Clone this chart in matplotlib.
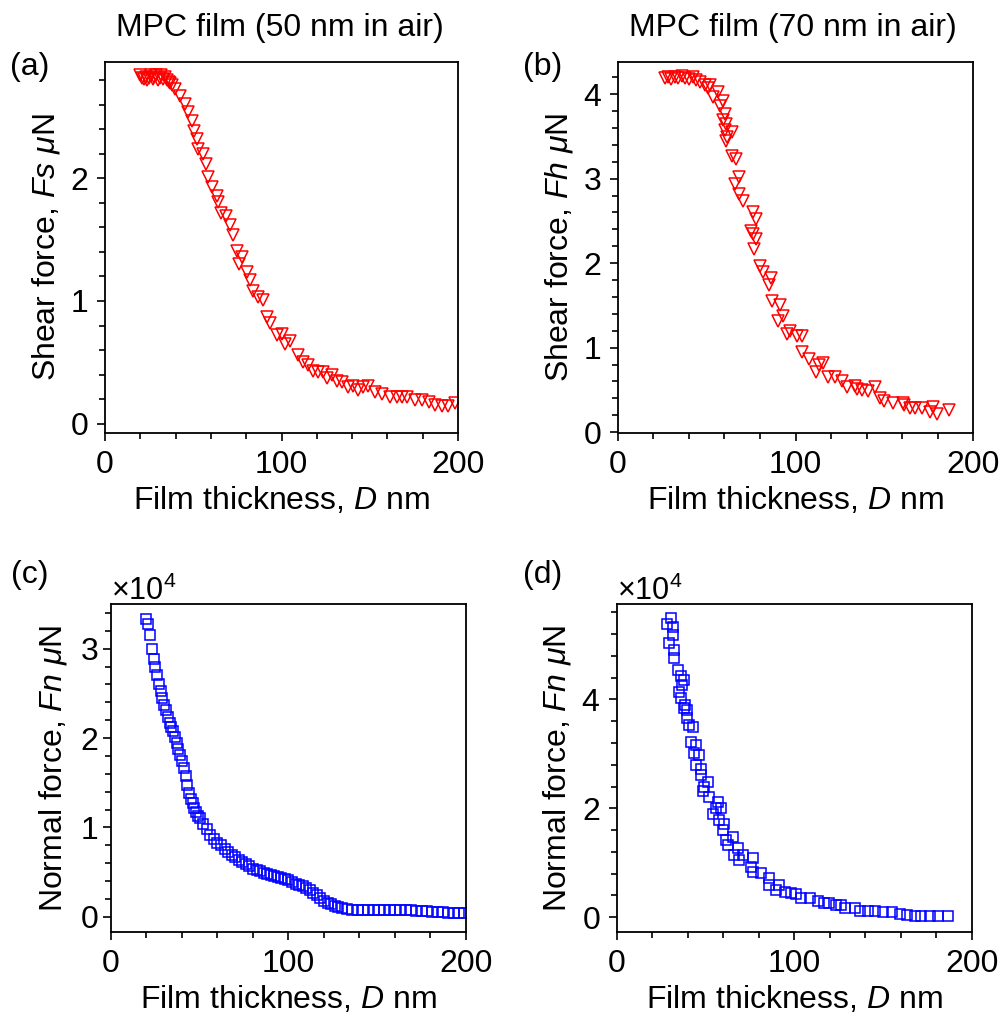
import numpy as np
import matplotlib
matplotlib.use('Agg')
import matplotlib.pyplot as plt
from matplotlib.ticker import MultipleLocator

plt.rcParams['font.family'] = ['Liberation Sans', 'DejaVu Sans']
plt.rcParams['mathtext.fontset'] = 'custom'
plt.rcParams['mathtext.rm'] = 'Liberation Sans'
plt.rcParams['mathtext.it'] = 'Liberation Sans:italic'
plt.rcParams['font.size'] = 23

# (a) shear force, 50 nm film
d_a = [20, 21, 22, 23, 24, 25, 26, 27, 28, 29, 30, 31, 32, 33, 34, 35, 36, 37, 38,
       39.7, 42.5, 45.3, 47.2, 49.1, 50.6, 51.9, 52.9, 55.7, 57.0, 58.5, 60.4, 63.3,
       64.2, 65.5, 68.6, 70.8, 72.7, 74.6, 77.4, 76.1, 80.3, 82.2, 84.1, 86.9, 89.7,
       91.6, 93.5, 97.3, 100.1, 102.0, 104.8, 109.5, 112.4, 115.2, 118.1, 120.9,
       123.7, 125.6, 128.4, 131.2, 134.1, 137.8, 140.7, 143.5, 146.4, 149.2, 153.0,
       156.7, 161.5, 165.2, 168.1, 171.0, 175.7, 179.5, 183.3, 187.0, 190.8, 194.6,
       198.3]
fs_a = [2.84, 2.82, 2.81, 2.83, 2.80, 2.82, 2.84, 2.81, 2.83, 2.84, 2.80, 2.82, 2.84,
        2.81, 2.83, 2.80, 2.79, 2.78, 2.76,
        2.73, 2.67, 2.61, 2.54, 2.47, 2.39, 2.32, 2.24, 2.20, 2.12, 2.01, 1.93, 1.86,
        1.81, 1.72, 1.69, 1.62, 1.54, 1.41, 1.36, 1.30, 1.24, 1.17, 1.08, 1.03, 1.01,
        0.87, 0.82, 0.72, 0.73, 0.65, 0.67, 0.56, 0.50, 0.48, 0.43, 0.42,
        0.42, 0.37, 0.40, 0.35, 0.34, 0.30, 0.31, 0.27, 0.30, 0.31, 0.26,
        0.24, 0.22, 0.22, 0.22, 0.22, 0.19, 0.19, 0.18, 0.15, 0.14, 0.14,
        0.17]

# (b) shear force, 70 nm film
d_b = [26.3, 28, 30, 32, 34, 36, 38, 40, 42, 44.2, 46.1, 48.9, 50.8, 51.7, 53.6, 56.4,
       57.4, 59.3, 60.2, 59.3, 61.1, 60.2, 64.0, 61.5, 60.8, 64.0, 66.4, 68.3, 65.9,
       68.3, 70.6, 75.8, 77.5, 74.9, 75.8, 77.5, 76.6, 80.0, 81.8, 86.0, 85.2, 86.5,
       91.3, 93.1, 90.3, 95.0, 96.9, 100.7, 103.5, 103.5, 107.8, 113.5, 115.4, 111.6,
       118.5, 122.3, 126.1, 128.9, 133.6, 134.5, 137.4, 141.1, 144.9, 147.7, 149.6,
       155.2, 160.5, 161.2, 164.6, 167.5, 171.2, 175.9, 177.4, 179.7, 186.3]
fh_b = [4.19, 4.20, 4.18, 4.20, 4.19, 4.21, 4.19, 4.18, 4.20, 4.17, 4.14, 4.11, 4.07,
        4.11, 3.96, 4.03, 3.86, 3.92, 3.76, 3.69, 3.65, 3.57, 3.55, 3.49, 3.45, 3.27,
        3.23, 3.02, 2.94, 2.82, 2.74, 2.60, 2.52, 2.38, 2.35, 2.29, 2.17, 1.97, 1.89,
        1.83, 1.74, 1.55, 1.50, 1.38, 1.31, 1.16, 1.20, 1.14, 1.14, 0.95, 0.87, 0.79,
        0.82, 0.71, 0.65, 0.65, 0.61, 0.53, 0.55, 0.51, 0.50, 0.49, 0.53, 0.41, 0.37,
        0.35, 0.35, 0.32, 0.28, 0.28, 0.28, 0.24, 0.30, 0.22, 0.26]

# (c) normal force, 50 nm film (x 1e4 uN)
d_c = [20, 21, 22, 23, 24, 25, 26, 27, 28, 29, 30, 31, 32, 33, 34, 35, 36, 37, 38, 39,
       40, 41, 42, 43, 44, 45, 46, 47, 48, 49, 50, 52, 54, 56, 58, 60, 62, 64, 66, 68,
       70, 72, 74, 76, 78, 80, 82, 84, 86, 88, 90, 92, 94, 96, 98, 100, 102, 104, 106,
       108, 110, 112, 114, 116, 118, 120, 122, 124, 126, 128, 130, 133, 136, 139, 142,
       145, 148, 151, 154, 157, 160, 163, 166, 169, 172, 175, 178, 181, 184, 187, 190,
       193, 196, 199]
fn_c = np.array([3.33, 3.28, 3.15, 3.00, 2.88, 2.79, 2.70, 2.61, 2.53, 2.45, 2.37,
                 2.31, 2.24, 2.17, 2.12, 2.08, 2.01, 1.95, 1.88, 1.81, 1.74, 1.66, 1.57,
                 1.48, 1.39, 1.32, 1.27, 1.22, 1.17, 1.13, 1.10, 1.04, 0.98, 0.92, 0.87,
                 0.83, 0.80, 0.76, 0.72, 0.69, 0.67, 0.64, 0.61, 0.59, 0.57, 0.54, 0.52,
                 0.51, 0.49, 0.48, 0.47, 0.46, 0.45, 0.43, 0.42, 0.41, 0.39, 0.37, 0.36,
                 0.34, 0.32, 0.30, 0.27, 0.24, 0.21, 0.18, 0.16, 0.14, 0.12, 0.11, 0.10,
                 0.09, 0.08, 0.08, 0.08, 0.08, 0.08, 0.08, 0.08, 0.08, 0.08, 0.08, 0.08,
                 0.075, 0.07, 0.065, 0.06, 0.055, 0.05, 0.05, 0.045, 0.045, 0.04,
                 0.04]) * 1e4

# (d) normal force, 70 nm film (x 1e4 uN)
d_d = [28.4, 30.3, 31.3, 31.3, 29.4, 32.2, 32.2, 34.1, 36.0, 37.9, 36.9, 35.0, 36.0,
       38.4, 39.7, 37.9, 39.7, 40.3, 42.6, 41.6, 44.5, 43.5, 46.3, 44.5, 47.3, 47.3,
       51.0, 49.2, 48.2, 51.9, 56.7, 55.7, 58.6, 54.2, 57.6, 60.4, 59.5, 65.2, 61.4,
       62.3, 68.0, 66.1, 70.8, 69.0, 76.4, 75.5, 76.4, 81.2, 85.9, 85.9, 91.5, 89.6,
       94.4, 98.1, 100.9, 103.8, 108.5, 113.2, 116.9, 119.7, 123.5, 126.3, 128.2,
       133.9, 136.7, 141.4, 145.2, 149.9, 155.2, 159.3, 163.1, 167.8, 171.5, 176.2,
       180.9, 186.6]
fn_d = np.array([5.39, 5.49, 5.33, 5.18, 5.03, 4.91, 4.75, 4.54, 4.42, 4.35, 4.26,
                 4.14, 4.02, 3.90, 3.80, 3.85, 3.65, 3.53, 3.50, 3.22, 3.16, 3.01, 2.98,
                 2.80, 2.73, 2.61, 2.49, 2.40, 2.31, 2.21, 2.12, 2.00, 2.00, 1.90, 1.79,
                 1.72, 1.61, 1.48, 1.42, 1.33, 1.27, 1.14, 1.14, 1.05, 1.08, 0.93, 0.84,
                 0.81, 0.73, 0.59, 0.59, 0.50, 0.47, 0.44, 0.43, 0.35, 0.35, 0.29, 0.26,
                 0.26, 0.23, 0.23, 0.17, 0.17, 0.12, 0.12, 0.12, 0.09, 0.09, 0.06, 0.04,
                 0.02, 0.02, 0.02, 0.02, 0.02]) * 1e4

W, H = 1003, 1024
fig = plt.figure(figsize=(W / 100, H / 100), dpi=100)


def add_axes(left, top, right, bottom):
    return fig.add_axes([left / W, 1 - bottom / H, (right - left) / W, (bottom - top) / H])


ax_a = add_axes(105, 62, 458, 433)
ax_b = add_axes(618, 62, 973, 433)
ax_c = add_axes(111, 604, 466, 932)
ax_d = add_axes(617, 604, 972, 932)

tri = dict(marker='v', ls='none', color='red', mfc='none', ms=8.5, mew=1.1)
sq = dict(marker='s', ls='none', color='blue', mfc='none', ms=6.5, mew=1.1)

ax_a.plot(d_a, fs_a, **tri)
ax_b.plot(d_b, fh_b, **tri)
ax_c.plot(d_c, fn_c, **sq)
ax_d.plot(d_d, fn_d, **sq)

ax_a.set_ylim(-0.077, 2.95)
ax_b.set_ylim(-0.01, 4.38)
ax_c.set_ylim(-0.17e4, 3.50e4)
ax_d.set_ylim(-0.27e4, 5.75e4)

ax_a.yaxis.set_major_locator(MultipleLocator(1))
ax_a.yaxis.set_minor_locator(MultipleLocator(0.2))
ax_b.yaxis.set_major_locator(MultipleLocator(1))
ax_b.yaxis.set_minor_locator(MultipleLocator(0.2))
ax_c.yaxis.set_major_locator(MultipleLocator(1e4))
ax_c.yaxis.set_minor_locator(MultipleLocator(0.2e4))
ax_d.yaxis.set_major_locator(MultipleLocator(2e4))
ax_d.yaxis.set_minor_locator(MultipleLocator(0.4e4))

for ax in (ax_a, ax_b, ax_c, ax_d):
    ax.set_xlim(0, 200)
    ax.xaxis.set_major_locator(MultipleLocator(100))
    ax.xaxis.set_minor_locator(MultipleLocator(20))
    ax.tick_params(which='both', direction='out', top=False, right=False, width=1.2)
    ax.tick_params(which='major', length=6, labelsize=23, pad=6)
    ax.tick_params(which='minor', length=4)
    for s in ax.spines.values():
        s.set_linewidth(1.3)
    ax.set_xlabel(r'Film thickness, $\it{D}$ nm', fontsize=23, labelpad=4)

ax_c.tick_params(axis='y', which='major', pad=3)

for ax in (ax_c, ax_d):
    ax.ticklabel_format(axis='y', style='sci', scilimits=(4, 4), useMathText=True)
    ax.yaxis.get_offset_text().set_fontsize(22)

ax_a.set_ylabel(r'Shear force, $\it{Fs}$ $\mu$N', fontsize=23, labelpad=6)
ax_b.set_ylabel(r'Shear force, $\it{Fh}$ $\mu$N', fontsize=23, labelpad=6)
ax_c.set_ylabel(r'Normal force, $\it{Fn}$ $\mu$N', fontsize=23, labelpad=8)
ax_d.set_ylabel(r'Normal force, $\it{Fn}$ $\mu$N', fontsize=23, labelpad=6)

fig.text(280 / W, 1 - 28 / H, 'MPC film (50 nm in air)', ha='center', va='center', fontsize=23)
fig.text(793 / W, 1 - 28 / H, 'MPC film (70 nm in air)', ha='center', va='center', fontsize=23)

for label, x, y in [('(a)', 30, 67), ('(b)', 543, 67), ('(c)', 30, 575), ('(d)', 543, 575)]:
    fig.text(x / W, 1 - y / H, label, ha='center', va='center', fontsize=23)

fig.savefig('out.png', dpi=100)
